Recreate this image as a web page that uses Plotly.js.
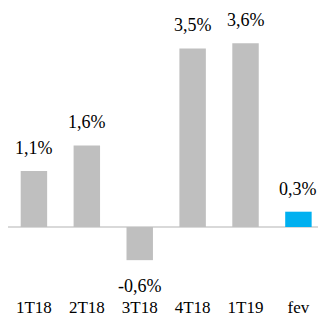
<!DOCTYPE html>
<html>
<head>
<meta charset="utf-8">
<script src="https://cdn.plot.ly/plotly-3.0.1.min.js"></script>
<style>html,body{margin:0;padding:0;background:#fff}#chart{width:319px;height:316px}</style>
</head>
<body>
<div id="chart"></div>
<script>
var categories = ["1T18", "2T18", "3T18", "4T18", "1T19", "fev"];
var values = [1.1, 1.6, -0.65, 3.5, 3.6, 0.3];
var labels = ["1,1%", "1,6%", "-0,6%", "3,5%", "3,6%", "0,3%"];
var colors = ["#bfbfbf", "#bfbfbf", "#bfbfbf", "#bfbfbf", "#bfbfbf", "#00b0f0"];

var family = "Liberation Serif, Times New Roman, serif";
var labelFont = {family: family, size: 18, color: "#000"};
var tickFont = {family: family, size: 17, color: "#000"};

var trace = {
  type: "bar",
  x: categories,
  y: values,
  marker: {color: colors},
  width: 0.5,
  hoverinfo: "none"
};

var annotations = categories.map(function (c, i) {
  return {
    x: c, y: values[i], text: labels[i], showarrow: false,
    xanchor: "center", yanchor: "middle",
    yshift: values[i] >= 0 ? 23 : -26,
    font: labelFont
  };
});

var layout = {
  width: 319, height: 316,
  margin: {l: 8, r: 1, t: 0, b: 21},
  paper_bgcolor: "#fff", plot_bgcolor: "#fff",
  showlegend: false,
  font: tickFont,
  xaxis: {
    type: "category", range: [-0.49, 5.37],
    showgrid: false, showline: false, zeroline: false,
    ticks: "", tickfont: tickFont, fixedrange: true
  },
  yaxis: {
    range: [-1.333, 4.45],
    showgrid: false, showline: false, showticklabels: false,
    zeroline: true, zerolinecolor: "#d9d9d9", zerolinewidth: 2,
    ticks: "", fixedrange: true
  },
  annotations: annotations
};

Plotly.newPlot("chart", [trace], layout, {displayModeBar: false, staticPlot: true});
</script>
</body>
</html>
